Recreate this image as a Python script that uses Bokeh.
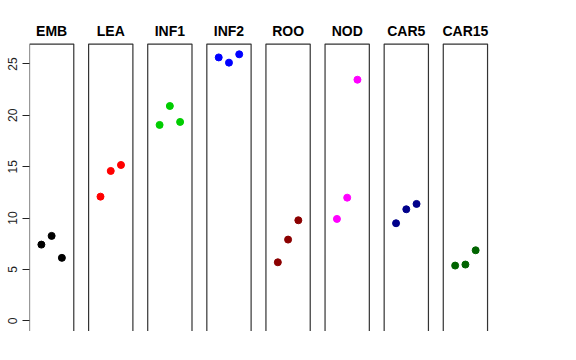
from bokeh.plotting import figure
from bokeh.models import FixedTicker, Range1d
from bokeh.core.properties import value
from bokeh.embed import file_html
from bokeh.resources import INLINE

categories = ["EMB", "LEA", "INF1", "INF2", "ROO", "NOD", "CAR5", "CAR15"]
colors = ["black", "red", "#00CD00", "blue", "#8B0000", "magenta", "#00008B", "#006400"]
emb = [7.42, 8.27, 6.13]
lea = [12.09, 14.59, 15.17]
inf1 = [19.07, 20.91, 19.36]
inf2 = [25.64, 25.13, 25.94]
roo = [5.70, 7.91, 9.79]
nod = [9.92, 11.99, 23.47]
car5 = [9.50, 10.86, 11.38]
car15 = [5.38, 5.48, 6.87]
series = [emb, lea, inf1, inf2, roo, nod, car5, car15]
y_ticks = [0, 5, 10, 15, 20, 25]

# layout constants
xlo, xhi = -0.16, 4.16          # inner x range of each panel
ylo, yhi = -1.036, 26.94         # inner y range of each panel
step = 5.767                      # panel spacing in x units
title_y = 28.24

p = figure(width=10, height=10, frame_width=468, frame_height=323,
           x_range=Range1d(xlo, 45.5), y_range=Range1d(ylo, 30.4),
           output_backend="svg", toolbar_location=None,
           min_border_left=29, min_border_right=0, min_border_top=8, min_border_bottom=0)
p.outline_line_color = None
p.xaxis.visible = False
p.xgrid.visible = False
p.ygrid.visible = False

ax = p.yaxis[0]
ax.ticker = FixedTicker(ticks=y_ticks)
ax.axis_line_color = None
ax.major_tick_out = 7
ax.major_tick_in = 0
ax.minor_tick_out = 0
ax.minor_tick_in = 0
ax.major_tick_line_color = "#222222"
ax.major_label_orientation = "vertical"
ax.major_label_standoff = 5
ax.major_label_text_font = "Liberation Sans"
ax.major_label_text_font_size = "12px"
ax.major_label_text_color = "#222222"

lefts, rights, cx, names = [], [], [], []
px, py, pc = [], [], []
for i, (cat, vals, col) in enumerate(zip(categories, series, colors)):
    off = i * step
    lefts.append(off + xlo)
    rights.append(off + xhi)
    cx.append(off + 2)
    names.append(cat)
    for j, v in enumerate(vals):
        px.append(off + j + 1)
        py.append(v)
        pc.append(col)

p.quad(left=lefts, right=rights, bottom=ylo, top=yhi, fill_color=None,
       line_color="#333333", line_width=1.2)
p.scatter(x=px, y=py, color=pc, size=7, marker="circle")
p.text(x=cx, y=[title_y] * len(cx), text=names, text_align="center",
       text_baseline="middle", text_font=value("Liberation Sans"),
       text_font_style="bold", text_font_size="14px", text_color="black")

open("out.html", "w").write(file_html(p, INLINE))
